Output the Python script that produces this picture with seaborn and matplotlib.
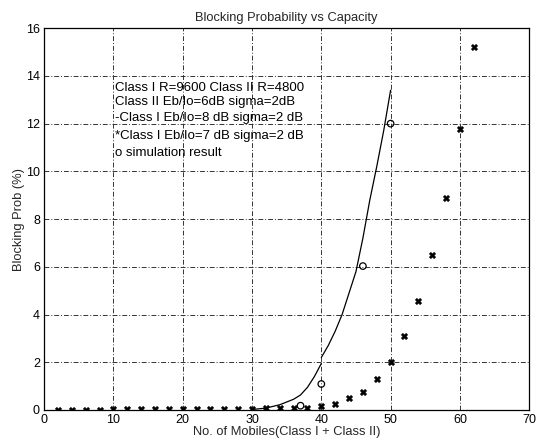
import matplotlib
matplotlib.use("Agg")
import matplotlib.pyplot as plt
import seaborn as sns
import numpy as np
import pandas as pd

# analytic curve (Class I Eb/Io = 8 dB), two segments
curve_lo_x = [30, 32, 34, 36, 37, 38, 39, 40]
curve_lo_y = [0.02, 0.08, 0.22, 0.45, 0.63, 0.95, 1.4, 1.95]
curve_hi_x = [40, 41, 42, 43, 44, 45, 46, 47, 48, 49, 50]
curve_hi_y = [2.2, 2.7, 3.3, 4.0, 4.9, 5.8, 7.2, 8.8, 10.2, 11.7, 13.4]

# '*' series (Class I Eb/Io = 7 dB)
star_x = [2, 4, 6, 8, 10, 12, 14, 16, 18, 20, 22, 24, 26, 28, 30, 32, 34, 36, 38,
          40, 42, 44, 46, 48, 50, 52, 54, 56, 58, 60, 62]
star_y = [0.02, 0.02, 0.02, 0.02, 0.03, 0.03, 0.03, 0.03, 0.03, 0.04, 0.04, 0.04, 0.05,
          0.05, 0.06, 0.07, 0.08, 0.09, 0.1,
          0.15, 0.24, 0.49, 0.77, 1.29, 2.03, 3.1, 4.58, 6.49, 8.89, 11.79, 15.23]

# 'o' simulation results
sim_x = [37, 40, 46, 50]
sim_y = [0.18, 1.09, 6.03, 12.0]

xticks = [0, 10, 20, 30, 40, 50, 60, 70]
yticks = [0, 2, 4, 6, 8, 10, 12, 14, 16]

legend_lines = [
    "Class I R=9600 Class II R=4800",
    "Class II Eb/Io=6dB sigma=2dB",
    "-Class I Eb/Io=8 dB sigma=2 dB",
    "*Class I Eb/Io=7 dB sigma=2 dB",
    "o simulation result",
]
legend_y = [13.5, 12.9, 12.25, 11.5, 10.75]

sns.set_theme(style="white")
plt.rcParams['font.family'] = ['Liberation Sans', 'DejaVu Sans']

fig = plt.figure(figsize=(5.45, 4.43), dpi=100)
ax = fig.add_axes([0.081, 0.0745, 0.89, 0.862])

sns.lineplot(x=curve_lo_x, y=curve_lo_y, ax=ax, color="black", linewidth=0.9, sort=False)
sns.lineplot(x=curve_hi_x, y=curve_hi_y, ax=ax, color="black", linewidth=0.9, sort=False)
sns.scatterplot(x=star_x, y=star_y, ax=ax, marker="X", s=22, color="black",
                edgecolor="black", linewidth=0.3)
sns.scatterplot(x=sim_x, y=sim_y, ax=ax, marker="o", s=22, facecolor="none",
                edgecolor="black", linewidth=0.9)

ax.set_xlim(0, 70)
ax.set_ylim(0, 16)
ax.set_xticks(xticks)
ax.set_yticks(yticks)
ax.tick_params(direction="in", length=3, labelsize=9, colors="black", pad=3)
ax.grid(True, color="#333333", linestyle=(0, (5, 2, 1, 2)), linewidth=0.7)
for s in ax.spines.values():
    s.set_color("black")
    s.set_linewidth(0.9)

for t, yy in zip(legend_lines, legend_y):
    ax.text(10.2, yy, t, fontsize=9.5, color="black", va="center", ha="left")

ax.set_title("Blocking Probability vs Capacity", fontsize=9.3, pad=5)
ax.set_xlabel("No. of Mobiles(Class I + Class II)", fontsize=9.3, labelpad=0)
ax.set_ylabel("Blocking Prob (%)", fontsize=9.3, labelpad=1)

fig.savefig("out.png", dpi=100)
